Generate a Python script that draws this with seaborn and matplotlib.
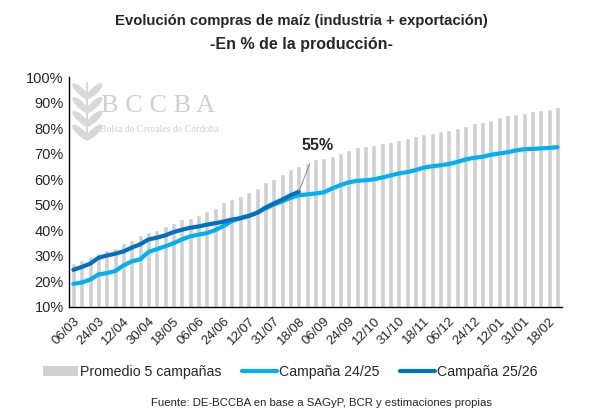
import numpy as np
import pandas as pd
import seaborn as sns
import matplotlib.pyplot as plt
import matplotlib.transforms as mtransforms
from matplotlib.lines import Line2D
from matplotlib.patches import Patch, Ellipse

# Data, % of production
promedio_5 = [27.2, 28.4, 29.8, 31.1, 32.0, 33.1, 34.9, 35.9, 38.1, 39.2,
              39.9, 41.6, 42.7, 44.2, 44.9, 45.8, 47.3, 48.6, 51.0, 52.3,
              53.4, 54.8, 56.5, 58.9, 60.0, 61.8, 64.0, 65.2, 66.4, 67.8,
              68.4, 69.1, 70.3, 71.3, 72.4, 72.8, 73.4, 74.2, 74.6, 75.3,
              76.2, 76.8, 77.7, 78.1, 78.7, 79.2, 80.0, 80.8, 82.1, 82.4,
              83.1, 84.3, 85.2, 85.6, 86.0, 86.8, 87.0, 87.4, 88.3]
campana_2425 = [18.9, 19.4, 20.5, 22.6, 23.1, 23.9, 26.1, 27.7, 28.5, 31.4,
                32.5, 33.6, 34.8, 36.3, 37.5, 38.2, 38.8, 40.0, 41.6, 43.5,
                44.7, 45.6, 46.8, 48.4, 50.0, 51.2, 52.6, 53.6, 54.0, 54.3,
                54.8, 56.3, 57.6, 58.7, 59.3, 59.5, 59.9, 60.6, 61.4, 62.2,
                62.7, 63.5, 64.5, 65.0, 65.4, 65.9, 66.7, 67.7, 68.3, 68.7,
                69.5, 70.0, 70.5, 71.2, 71.7, 71.8, 72.0, 72.2, 72.5]
campana_2526 = [24.4, 25.5, 26.8, 29.1, 30.0, 30.7, 31.6, 33.1, 34.4, 36.3,
                37.0, 37.9, 39.2, 40.1, 40.9, 41.4, 42.1, 42.7, 43.3, 44.1,
                44.6, 45.5, 46.7, 48.8, 50.4, 51.9, 53.6, 55.0]
tick_labels = ["06/03", "24/03", "12/04", "30/04", "18/05", "06/06", "24/06",
               "12/07", "31/07", "18/08", "06/09", "24/09", "12/10", "31/10",
               "18/11", "06/12", "24/12", "12/01", "31/01", "18/02"]

GRAY = "#D0D0D0"
LIGHT = "#00B0F0"
DARK = "#0070C0"

sns.set_style("white")
plt.rcParams['font.family'] = ['Liberation Sans', 'DejaVu Sans']

df = pd.DataFrame({'semana': np.arange(len(promedio_5)), 'promedio': promedio_5})
df_2425 = pd.DataFrame({'semana': np.arange(len(campana_2425)), 'valor': campana_2425})
df_2526 = pd.DataFrame({'semana': np.arange(len(campana_2526)), 'valor': campana_2526})

fig = plt.figure(figsize=(6.02, 4.15), dpi=100)
ax = fig.add_axes([0.115, 0.2614, 0.818, 0.553])

sns.barplot(data=df, x='semana', y='promedio', color=GRAY, width=0.6,
            saturation=1, ax=ax)
sns.lineplot(data=df_2425, x='semana', y='valor', color=LIGHT, lw=3,
             ax=ax, solid_capstyle='round')
sns.lineplot(data=df_2526, x='semana', y='valor', color=DARK, lw=3,
             ax=ax, solid_capstyle='round')

ax.set_xlim(-0.5, len(promedio_5) - 0.5)
ax.set_ylim(10, 100)
ax.set_yticks(range(10, 101, 10))
ax.set_yticklabels([f"{v}%" for v in range(10, 101, 10)], fontsize=10.5)
ax.set_xticks(range(0, len(promedio_5), 3))
ax.set_xticklabels(tick_labels, rotation=45, ha='right', va='top',
                   rotation_mode='anchor', fontsize=9.5)
shift = mtransforms.ScaledTranslation(7 / 100, 0, fig.dpi_scale_trans)
for lab in ax.get_xticklabels():
    lab.set_transform(lab.get_transform() + shift)
ax.tick_params(axis='both', length=0)
ax.tick_params(axis='x', pad=6)
ax.tick_params(axis='y', pad=4)
ax.set_xlabel('')
ax.set_ylabel('')
for s in ['top', 'right']:
    ax.spines[s].set_visible(False)
for s in ['left', 'bottom']:
    ax.spines[s].set_color('black')
    ax.spines[s].set_linewidth(1.0)

# last value label
last_i = len(campana_2526) - 1
ax.annotate(f"{campana_2526[-1]:.0f}%", xy=(last_i, campana_2526[-1]),
            xytext=(29.2, 73.3), ha='center', va='center', fontsize=11.5,
            fontweight='bold',
            arrowprops=dict(arrowstyle='-', color='#808080', lw=0.6,
                            shrinkA=6, shrinkB=0))

# watermark logo
fig.text(0.168, 0.745, "B C C B A", family='Liberation Serif', fontsize=19,
         color='#CFCFCF', ha='left', va='center')
fig.text(0.166, 0.688, "Bolsa de Cereales de Córdoba", family='Liberation Serif',
         fontsize=7, color='#CFCFCF', ha='left', va='center')
for k in range(4):
    for side in (-1, 1):
        fig.patches.append(Ellipse((0.145 + side * 0.011, 0.78 - k * 0.033),
                                   0.011, 0.042, angle=-side * 35,
                                   transform=fig.transFigure,
                                   color='#D8D8D8', zorder=0))
fig.add_artist(Line2D([0.145, 0.145], [0.68, 0.80], color='#D8D8D8', lw=1.5,
                      transform=fig.transFigure))

fig.text(0.5, 0.950, "Evolución compras de maíz (industria + exportación)",
         ha='center', va='center', fontsize=10.7, fontweight='bold')
fig.text(0.5, 0.893, "-En % de la producción-", ha='center', va='center',
         fontsize=11.5, fontweight='bold')

handles = [Patch(facecolor=GRAY, edgecolor='none'),
           Line2D([], [], color=LIGHT, lw=3),
           Line2D([], [], color=DARK, lw=3)]
fig.legend(handles, ["Promedio 5 campañas", "Campaña 24/25", "Campaña 25/26"],
           loc='center', bbox_to_anchor=(0.482, 0.104), ncol=3, frameon=False,
           fontsize=10.2, handlelength=2.5, handletextpad=0.15,
           columnspacing=1.4)

fig.text(0.534, 0.029, "Fuente: DE-BCCBA en base a SAGyP, BCR y estimaciones propias",
         ha='center', va='center', fontsize=8.2)

fig.savefig("out.png", dpi=100)
plt.close(fig)
